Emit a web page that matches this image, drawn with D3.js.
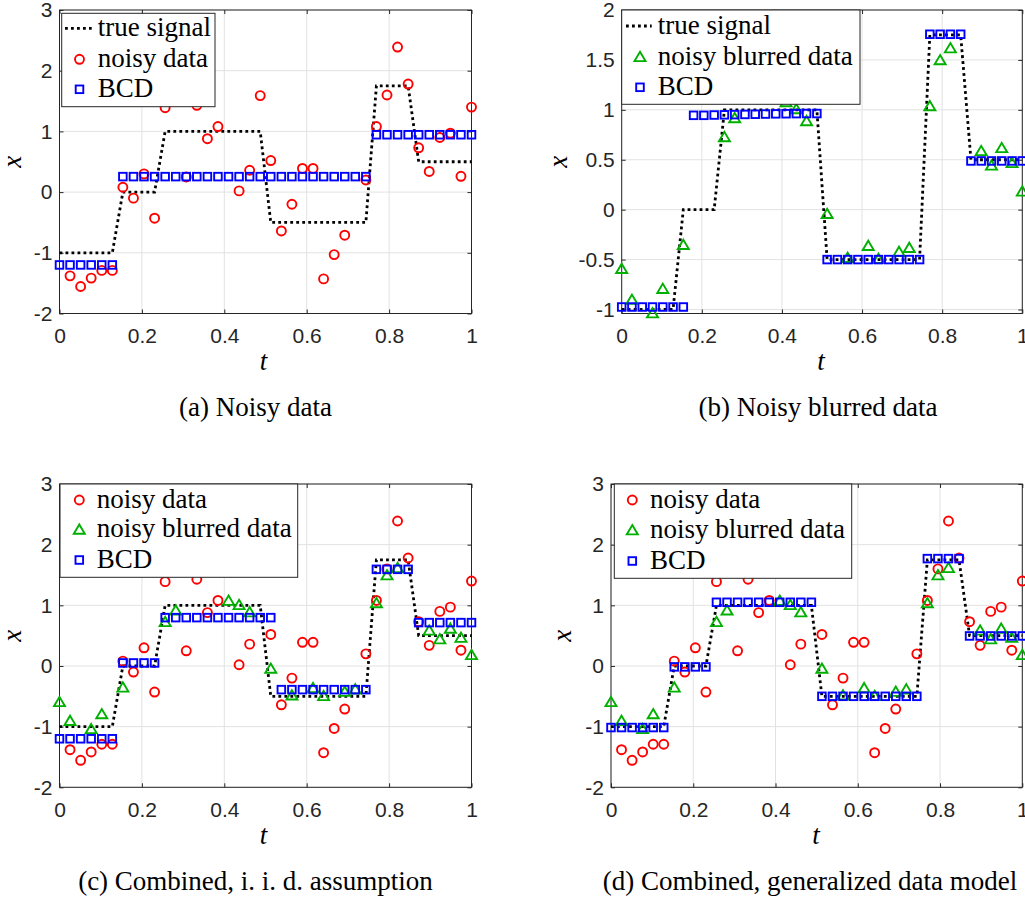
<!DOCTYPE html>
<html><head><meta charset="utf-8">
<script src="https://cdn.jsdelivr.net/npm/d3@7"></script>
<style>body{margin:0;background:#fff}</style>
</head><body>
<svg id="chart" width="1025" height="900"></svg>
<script>
// ---------- data ----------
const tValues = [0,0.0256,0.0513,0.0769,0.1026,0.1282,0.1538,0.1795,0.2051,0.2308,
  0.2564,0.2821,0.3077,0.3333,0.3590,0.3846,0.4103,0.4359,0.4615,0.4872,
  0.5128,0.5385,0.5641,0.5897,0.6154,0.6410,0.6667,0.6923,0.7179,0.7436,
  0.7692,0.7949,0.8205,0.8462,0.8718,0.8974,0.9231,0.9487,0.9744,1];
const trueSignal = [-1,-1,-1,-1,-1,-1,0,0,0,0,
  1,1,1,1,1,1,1,1,1,1,
  -0.5,-0.5,-0.5,-0.5,-0.5,-0.5,-0.5,-0.5,-0.5,-0.5,
  1.75,1.75,1.75,1.75,0.5,0.5,0.5,0.5,0.5,0.5];
const noisyData = [null,-1.38,-1.555,-1.417,-1.29,-1.29,0.08,-0.10,0.30,-0.43,
  1.39,null,0.25,1.43,0.88,1.08,null,0.02,0.36,1.59,
  0.52,-0.64,-0.20,0.39,0.39,-1.43,-1.03,-0.71,null,0.20,
  1.08,1.60,2.39,1.78,0.73,0.34,0.90,0.97,0.26,1.40];
const blurredData = [-0.59,-0.90,null,-1.035,-0.79,null,-0.35,null,null,null,
  0.73,0.92,null,null,null,null,1.08,1.01,0.89,null,
  -0.04,null,-0.48,null,-0.36,-0.49,null,-0.42,-0.38,null,
  1.04,1.50,1.62,null,null,0.59,0.445,0.62,0.47,0.185];
const bcdA = [-1.2,-1.2,-1.2,-1.2,-1.2,-1.2,0.255,0.255,0.255,0.255,
  0.255,0.255,0.255,0.255,0.255,0.255,0.255,0.255,0.255,0.255,
  0.255,0.255,0.255,0.255,0.255,0.255,0.255,0.255,0.255,0.255,
  0.945,0.945,0.945,0.945,0.945,0.945,0.945,0.945,0.945,0.945];
const bcdB = [-0.975,-0.975,-0.975,-0.975,-0.975,-0.975,-0.975,0.945,0.945,0.948,
  0.95,0.952,0.954,0.956,0.958,0.96,0.961,0.962,0.963,0.963,
  -0.5,-0.5,-0.5,-0.5,-0.5,-0.5,-0.5,-0.5,-0.5,-0.5,
  1.757,1.757,1.757,1.757,0.488,0.488,0.488,0.488,0.488,0.488];
const bcdC = [-1.2,-1.2,-1.2,-1.2,-1.2,-1.2,0.05,0.05,0.05,0.05,
  0.797,0.797,0.797,0.797,0.797,0.797,0.797,0.797,0.797,0.797,
  0.797,-0.39,-0.39,-0.39,-0.39,-0.39,-0.39,-0.39,-0.39,-0.39,
  1.593,1.593,1.593,1.593,0.715,0.715,0.715,0.715,0.715,0.715];
const bcdD = [-1.015,-1.015,-1.015,-1.015,-1.015,-1.015,-0.015,-0.015,-0.015,-0.015,
  1.05,1.05,1.05,1.05,1.05,1.05,1.05,1.05,1.05,1.05,
  -0.5,-0.5,-0.5,-0.5,-0.5,-0.5,-0.5,-0.5,-0.5,-0.5,
  1.77,1.77,1.77,1.77,0.495,0.495,0.495,0.495,0.495,0.495];

const xTicks = [0,0.2,0.4,0.6,0.8,1];
const xTickLabels = ["0","0.2","0.4","0.6","0.8","1"];
const yTicksWide = [-2,-1,0,1,2,3];
const yTickLabelsWide = ["-2","-1","0","1","2","3"];
const yTicksB = [-1,-0.5,0,0.5,1,1.5,2];
const yTickLabelsB = ["-1","-0.5","0","0.5","1","1.5","2"];
const captions = ["(a) Noisy data","(b) Noisy blurred data","(c) Combined, i. i. d. assumption","(d) Combined, generalized data model"];
const legendNames = {truth:"true signal", noisy:"noisy data", blurred:"noisy blurred data", bcd:"BCD"};

// ---------- style ----------
const RED = "#ff0000", GREEN = "#00b000", BLUE = "#0000ff", AXIS = "#262626", GRID = "#e2e2e2";
const SERIF = "'Liberation Serif','Times New Roman',serif";
const SANS = "'Liberation Sans',Arial,Helvetica,sans-serif";
const MW = 1.9;

const svg = d3.select("#chart");

const panels = [
  {left:59.5, right:471.5, top:10, bottom:313.5, ydom:[-2,3], yt:yTicksWide, ytl:yTickLabelsWide,
   bcd:bcdA, showNoisy:true, showBlurred:false, caption:captions[0], capX:255.5, tX:263.5, ylabX:20.7,
   legend:{x:61.7, y:13.3, w:153.3, h:93.4, mx:79.5, lx1:65, lx2:91.7, tx:97.7, rows:[28.3,59.3,89.3],
           items:["truth","noisy","bcd"]}},
  {left:621.7, right:1022.3, top:10, bottom:313.5, ydom:[-1.04,2], yt:yTicksB, ytl:yTickLabelsB,
   bcd:bcdB, showNoisy:false, showBlurred:true, caption:captions[1], capX:818, tX:821, ylabX:567,
   legend:{x:621.7, y:10, w:238.3, h:94.3, mx:640, lx1:626, lx2:651.7, tx:657.7, rows:[26,56.7,87.3],
           items:["truth","blurred","bcd"]}},
  {left:59.5, right:471.5, top:484, bottom:787.3, ydom:[-2,3], yt:yTicksWide, ytl:yTickLabelsWide,
   bcd:bcdC, showNoisy:true, showBlurred:true, caption:captions[2], capX:255.5, tX:263.5, ylabX:20.7,
   legend:{x:60, y:484, w:237.7, h:93.3, mx:79.3, tx:96.7, rows:[500,529.3,560],
           items:["noisy","blurred","bcd"]}},
  {left:611, right:1022.3, top:484, bottom:787.3, ydom:[-2,3], yt:yTicksWide, ytl:yTickLabelsWide,
   bcd:bcdD, showNoisy:true, showBlurred:true, caption:captions[3], capX:810, tX:816, ylabX:571,
   legend:{x:614.3, y:484, w:237.4, h:94.3, mx:632.3, tx:650, rows:[500,530,561],
           items:["noisy","blurred","bcd"]}}
];

const triPath = "M0,-4.9L5.5,4.4L-5.5,4.4Z";

function drawCircle(sel, cx, cy){ sel.append("circle").attr("cx",cx).attr("cy",cy).attr("r",4.5)
  .attr("fill","none").attr("stroke",RED).attr("stroke-width",MW); }
function drawTri(sel, cx, cy){ sel.append("path").attr("d",triPath).attr("transform",`translate(${cx},${cy})`)
  .attr("fill","none").attr("stroke",GREEN).attr("stroke-width",MW).attr("stroke-linejoin","miter"); }
function drawSq(sel, cx, cy){ sel.append("rect").attr("x",cx-3.8).attr("y",cy-3.8).attr("width",7.6).attr("height",7.6)
  .attr("fill","none").attr("stroke",BLUE).attr("stroke-width",MW); }

panels.forEach(p => {
  const x = d3.scaleLinear().domain([0,1]).range([p.left,p.right]);
  const y = d3.scaleLinear().domain(p.ydom).range([p.bottom,p.top]);
  const g = svg.append("g");

  // grid
  g.append("g").selectAll("line").data(xTicks).join("line")
    .attr("x1",d=>x(d)).attr("x2",d=>x(d)).attr("y1",p.top).attr("y2",p.bottom)
    .attr("stroke",GRID).attr("stroke-width",1);
  g.append("g").selectAll("line").data(p.yt).join("line")
    .attr("y1",d=>y(d)).attr("y2",d=>y(d)).attr("x1",p.left).attr("x2",p.right)
    .attr("stroke",GRID).attr("stroke-width",1);

  // box
  g.append("rect").attr("x",p.left).attr("y",p.top).attr("width",p.right-p.left).attr("height",p.bottom-p.top)
    .attr("fill","none").attr("stroke",AXIS).attr("stroke-width",1);

  const styleAxis = s => { s.select(".domain").remove(); s.attr("font-family",SANS).attr("font-size",21).attr("color",AXIS); };
  g.append("g").attr("transform",`translate(0,${p.bottom})`)
    .call(d3.axisBottom(x).tickValues(xTicks).tickFormat((d,i)=>xTickLabels[i]).tickSize(-4).tickPadding(14.5)).call(styleAxis);
  g.append("g").attr("transform",`translate(0,${p.top})`)
    .call(d3.axisTop(x).tickValues(xTicks).tickFormat("").tickSize(-4)).call(styleAxis);
  g.append("g").attr("transform",`translate(${p.left},0)`)
    .call(d3.axisLeft(y).tickValues(p.yt).tickFormat((d,i)=>p.ytl[i]).tickSize(-4).tickPadding(7)).call(styleAxis);
  g.append("g").attr("transform",`translate(${p.right},0)`)
    .call(d3.axisRight(y).tickValues(p.yt).tickFormat("").tickSize(-4)).call(styleAxis);

  // true signal
  const line = d3.line().x((d,i)=>x(tValues[i])).y(d=>y(d));
  g.append("path").attr("d",line(trueSignal)).attr("fill","none").attr("stroke","#000")
    .attr("stroke-width",2.8).attr("stroke-dasharray","2.8,3.2");

  // data
  const dg = g.append("g");
  if (p.showNoisy) noisyData.forEach((v,i)=>{ if(v!==null) drawCircle(dg, x(tValues[i]), y(v)); });
  if (p.showBlurred) blurredData.forEach((v,i)=>{ if(v!==null) drawTri(dg, x(tValues[i]), y(v)); });
  p.bcd.forEach((v,i)=> drawSq(dg, x(tValues[i]), y(v)));

  // labels
  g.append("text").attr("x",p.tX).attr("y",p.bottom+56.5).attr("text-anchor","middle")
    .attr("font-family",SERIF).attr("font-style","italic").attr("font-size",27).attr("fill","#000").text("t");
  g.append("text").attr("transform",`translate(${p.ylabX},${(p.top+p.bottom)/2}) rotate(-90)`).attr("text-anchor","middle")
    .attr("font-family",SERIF).attr("font-style","italic").attr("font-size",27).attr("fill","#000").text("x");
  g.append("text").attr("x",p.capX).attr("y",p.bottom+102.5).attr("text-anchor","middle")
    .attr("font-family",SERIF).attr("font-size",27).attr("fill","#000").text(p.caption);

  // legend
  const L = p.legend;
  const lg = g.append("g");
  lg.append("rect").attr("x",L.x).attr("y",L.y).attr("width",L.w).attr("height",L.h)
    .attr("fill","#fff").attr("stroke",AXIS).attr("stroke-width",1);
  L.items.forEach((key,j)=>{
    const cy = L.rows[j];
    if (key==="truth") lg.append("line").attr("x1",L.lx1).attr("x2",L.lx2).attr("y1",cy).attr("y2",cy)
      .attr("stroke","#000").attr("stroke-width",2.8).attr("stroke-dasharray","2.8,3.2");
    if (key==="noisy") drawCircle(lg, L.mx, cy);
    if (key==="blurred") drawTri(lg, L.mx, cy);
    if (key==="bcd") drawSq(lg, L.mx, cy);
    lg.append("text").attr("x",L.tx).attr("y",cy+8).attr("font-family",SERIF).attr("font-size",27)
      .attr("fill","#000").text(legendNames[key]);
  });
});
</script>
</body></html>
